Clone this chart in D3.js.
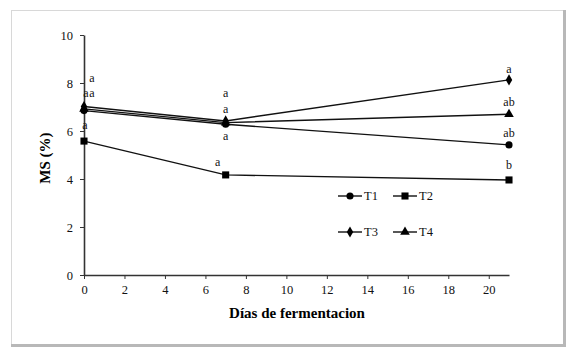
<!DOCTYPE html>
<html><head><meta charset="utf-8">
<script src="https://cdn.jsdelivr.net/npm/d3@7"></script>
<style>body{margin:0;background:#fff}svg{display:block}svg text{font-family:"Liberation Serif","Times New Roman",serif}</style>
</head><body>
<script>
const days = [0, 7, 21];
const seriesNames = ["T1", "T2", "T3", "T4"];
const T1 = [6.85, 6.28, 5.42];
const T2 = [5.58, 4.17, 3.96];
const T3 = [7.02, 6.42, 8.13];
const T4 = [6.92, 6.35, 6.70];
const xTicks = [0, 2, 4, 6, 8, 10, 12, 14, 16, 18, 20];
const yTicks = [0, 2, 4, 6, 8, 10];
// significance letters
const letterDays = [0, 0, 0, 0, 7, 7, 7, 7, 21, 21, 21, 21];
const letterText = ["a", "a", "a", "a", "a", "a", "a", "a", "a", "ab", "ab", "b"];
const letterVals = [8.2, 7.6, 7.6, 6.25, 7.6, 6.9, 5.8, 4.7, 8.6, 7.2, 5.9, 4.6];
const letterDx = [8, 2, 8, 1, 0, 0, 0, -8, 0, 0, 0, 0];

const W = 586, H = 357;
const svg = d3.select("body").append("svg").attr("width", W).attr("height", H);
const font = '"Liberation Serif", "Times New Roman", serif';

// frame
svg.append("rect").attr("x", 11.5).attr("y", 10.5).attr("width", 552).attr("height", 334)
  .attr("fill", "#fff").attr("stroke", "#d8d8d8").attr("stroke-width", 1);
svg.append("line").attr("x1", 564.5).attr("x2", 564.5).attr("y1", 10).attr("y2", 346)
  .attr("stroke", "#b8b8b8").attr("stroke-width", 3);
svg.append("line").attr("x1", 11).attr("x2", 566).attr("y1", 345.5).attr("y2", 345.5)
  .attr("stroke", "#b8b8b8").attr("stroke-width", 3);

const x = d3.scaleLinear().domain([0, 21]).range([84, 509]);
const y = d3.scaleLinear().domain([0, 10]).range([275, 35]);

const xAxis = svg.append("g").attr("transform", "translate(0,275)")
  .call(d3.axisBottom(x).tickValues(xTicks).tickSize(4).tickPadding(6).tickSizeOuter(0));
const yAxis = svg.append("g").attr("transform", "translate(84,0)")
  .call(d3.axisLeft(y).tickValues(yTicks).tickSize(4).tickPadding(7).tickSizeOuter(0));
[xAxis, yAxis].forEach(g => {
  g.attr("font-family", null);
  g.select(".domain").attr("stroke", "#333").attr("stroke-width", 1.6);
  g.selectAll(".tick line").attr("stroke", "#333");
  g.selectAll(".tick text").attr("font-size", 12.5).attr("fill", "#111");
});

// titles
svg.append("text").attr("x", 297).attr("y", 318).attr("text-anchor", "middle")
  .attr("font-weight", "bold").attr("font-size", 15).text("Días de fermentacion");
svg.append("text").attr("transform", "translate(50,158) rotate(-90)").attr("text-anchor", "middle")
  .attr("font-weight", "bold").attr("font-size", 15).text("MS (%)");

const data = [T1, T2, T3, T4];
const symbols = [d3.symbolCircle, d3.symbolSquare, d3.symbolDiamond, d3.symbolTriangle];
const symSizes = [40, 50, 36, 40];
const line = d3.line().x((d, i) => x(days[i])).y(d => y(d));

data.forEach((vals, s) => {
  svg.append("path").attr("d", line(vals)).attr("fill", "none").attr("stroke", "#111").attr("stroke-width", 1.4);
  vals.forEach((v, i) => {
    svg.append("path").attr("d", d3.symbol(symbols[s], symSizes[s])())
      .attr("transform", `translate(${x(days[i])},${y(v)})`).attr("fill", "#000");
  });
});

// letters
letterText.forEach((t, i) => {
  svg.append("text").attr("x", x(letterDays[i]) + letterDx[i]).attr("y", y(letterVals[i]) + 4)
    .attr("text-anchor", "middle").attr("font-size", 12).attr("fill", "#111").text(t);
});

// legend
const legX = [338, 393], legY = [196, 232];
seriesNames.forEach((n, s) => {
  const lx = legX[s % 2], ly = legY[Math.floor(s / 2)];
  svg.append("line").attr("x1", lx).attr("x2", lx + 24).attr("y1", ly).attr("y2", ly).attr("stroke", "#111").attr("stroke-width", 1.4);
  svg.append("path").attr("d", d3.symbol(symbols[s], symSizes[s])()).attr("transform", `translate(${lx + 12},${ly})`).attr("fill", "#000");
  svg.append("text").attr("x", lx + 26).attr("y", ly + 4).attr("font-size", 12.5).attr("fill", "#111").text(n);
});
</script>
</body></html>
